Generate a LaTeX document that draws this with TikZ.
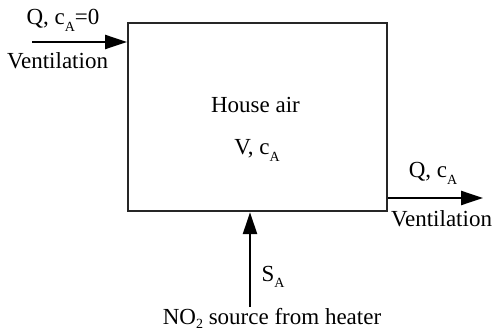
\documentclass[tikz,border=0pt]{standalone}
\usepackage{fontspec}
\setmainfont{Liberation Serif}
\usetikzlibrary{arrows.meta}
\newcommand{\subA}{\raisebox{-0.28em}{\fontsize{7}{7}\selectfont A}}
\newcommand{\subTwo}{\raisebox{-0.2em}{\fontsize{7}{7}\selectfont 2}}
\begin{document}
\begin{tikzpicture}[x=0.5pt,y=-0.5pt,
  lbl/.style={inner sep=0pt, anchor=base, font=\fontsize{11.5}{13}\selectfont},
  housebox/.style={draw=black!85, line width=1pt, minimum width=129.5pt, minimum height=94.2pt, inner sep=0pt},
  flow/.style={line width=1.2pt, -{Triangle[length=11pt,width=7pt]}}]
\useasboundingbox (0,0) rectangle (492,331);
\node[housebox] (box) at (257.5,117) {};
\coordinate (inL) at (32,42);
\coordinate (outR) at (483,198);
\coordinate (src) at (250,307);
\draw[flow] (inL) -- (inL -| box.west);
\draw[flow] (outR -| box.east) -- (outR);
\draw[flow] (src) -- (src |- box.south);
\node[lbl] (qin) at (63,25) {Q, c\subA=0};
\node[lbl] (vin) at (57.5,69) {Ventilation};
\node[lbl] (house) at (255.5,113) {House air};
\node[lbl] (vc) at (257,155) {V, c\subA};
\node[lbl] (qout) at (433,178) {Q, c\subA};
\node[lbl] (vout) at (441.5,227) {Ventilation};
\node[lbl] (sa) at (273,281) {S\subA};
\node[lbl] (no2) at (272,324) {NO\subTwo\ source from heater};
\end{tikzpicture}
\end{document}
